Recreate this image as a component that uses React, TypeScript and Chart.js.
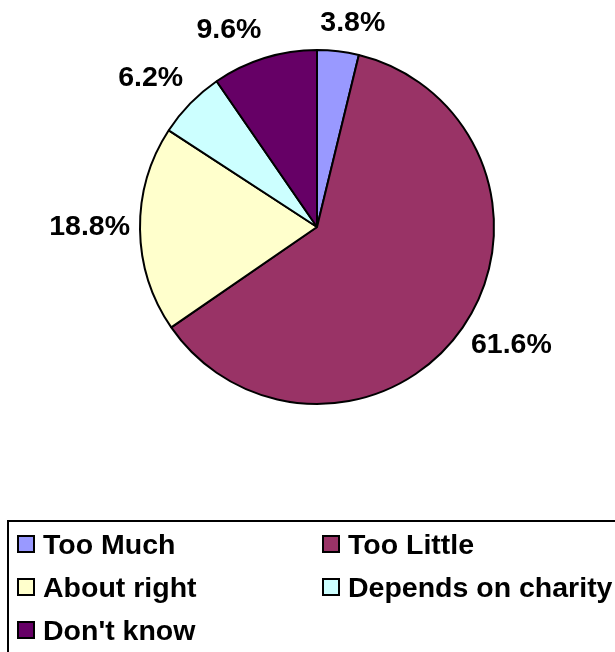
import React, { useEffect, useRef } from "react";
import { Chart, registerables } from "chart.js";

Chart.register(...registerables);

const categories = ["Too Much", "Too Little", "About right", "Depends on charity", "Don't know"];
const values = [3.8, 61.6, 18.8, 6.2, 9.6];
const colors = ["#9999FF", "#993366", "#FFFFCC", "#CCFFFF", "#660066"];

const FONT = "'Liberation Sans', Arial, sans-serif";

const clamp = (v: number) => Math.max(-1, Math.min(1, v));

const outsideLabels = {
  id: "outsideLabels",
  afterDatasetsDraw(chart: any) {
    const ctx = chart.ctx;
    const meta = chart.getDatasetMeta(0);
    ctx.save();
    ctx.font = `bold 28.5px ${FONT}`;
    ctx.fillStyle = "#000";
    ctx.textAlign = "center";
    ctx.textBaseline = "middle";
    meta.data.forEach((arc: any, i: number) => {
      const p = arc.getProps(["x", "y", "startAngle", "endAngle", "outerRadius"], true);
      const mid = (p.startAngle + p.endAngle) / 2;
      const c = Math.cos(mid);
      const s = Math.sin(mid);
      const text = values[i].toFixed(1) + "%";
      const hw = ctx.measureText(text).width / 2;
      const hh = 15.5;
      const r = p.outerRadius + 10;
      const bx = p.x + c * r + clamp(3.5 * c) * hw;
      const by = p.y + s * r + clamp(3.5 * s) * hh;
      ctx.fillText(text, bx, by - 3);
    });
    ctx.restore();
  },
};

export default function App() {
  const ref = useRef<HTMLCanvasElement>(null);
  useEffect(() => {
    document.body.style.margin = "0";
    const chart = new Chart(ref.current!, {
      type: "pie",
      data: {
        labels: categories,
        datasets: [
          {
            data: values,
            backgroundColor: colors,
            borderColor: "#000",
            borderWidth: 2,
          },
        ],
      },
      options: {
        animation: false,
        responsive: false,
        maintainAspectRatio: false,
        layout: { padding: { left: 139, right: 120, top: 49, bottom: 247 } },
        plugins: {
          legend: { display: false },
          tooltip: { enabled: false },
        },
      },
      plugins: [outsideLabels],
    });
    return () => chart.destroy();
  }, []);

  const rows: number[][] = [];
  for (let i = 0; i < categories.length; i += 2) {
    rows.push(categories.slice(i, i + 2).map((_, j) => i + j));
  }

  return (
    <div
      style={{
        position: "absolute",
        left: 0,
        top: 0,
        width: 615,
        height: 652,
        overflow: "hidden",
        background: "#fff",
      }}
    >
      <canvas ref={ref} width={615} height={652} style={{ position: "absolute", left: 0, top: 0 }} />
      <div
        style={{
          position: "absolute",
          left: 7,
          top: 520,
          width: 700,
          height: 200,
          border: "2px solid #000",
          boxSizing: "border-box",
          fontFamily: FONT,
          fontWeight: "bold",
          fontSize: 28.5,
        }}
      >
        {rows.map((row, ri) => (
          <div
            key={ri}
            style={{ position: "absolute", left: 0, top: 2 + ri * 43, height: 40, width: 690 }}
          >
            {row.map((idx, ci) => (
              <div
                key={idx}
                style={{
                  position: "absolute",
                  left: 8 + ci * 305,
                  top: 0,
                  height: 40,
                  display: "flex",
                  alignItems: "center",
                  whiteSpace: "nowrap",
                }}
              >
                <span
                  style={{
                    display: "inline-block",
                    width: 18,
                    height: 18,
                    boxSizing: "border-box",
                    border: "2px solid #000",
                    background: colors[idx],
                    marginRight: 8,
                  }}
                />
                <span style={{ lineHeight: "40px" }}>{categories[idx]}</span>
              </div>
            ))}
          </div>
        ))}
      </div>
    </div>
  );
}
